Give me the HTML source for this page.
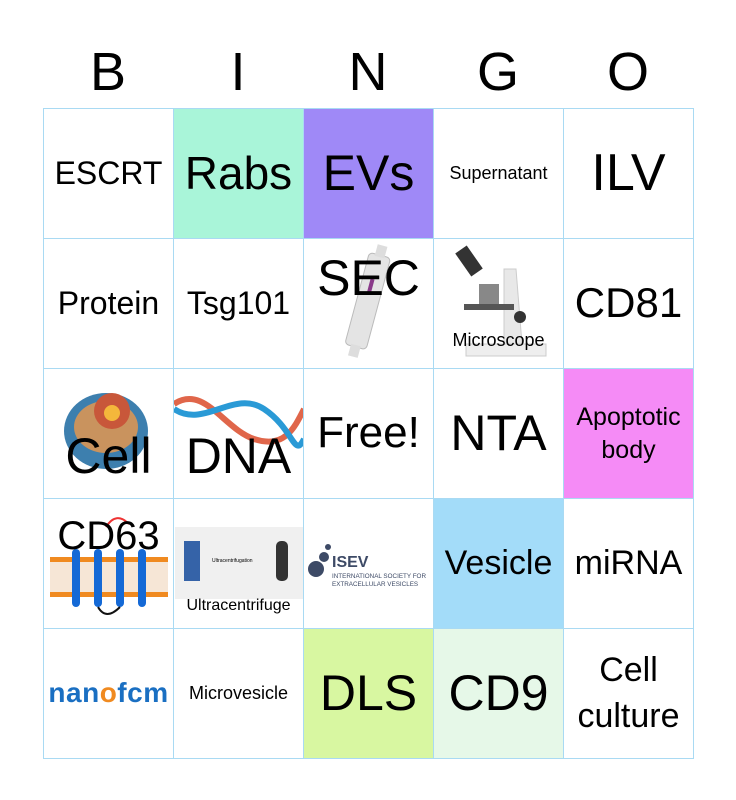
<!DOCTYPE html>
<html><head><meta charset="utf-8"><style>
body{margin:0;width:736px;height:800px;background:#fff;position:relative;overflow:hidden;font-family:"Liberation Sans",sans-serif;}
.h{position:absolute;top:40px;width:130px;text-align:center;font-size:54px;line-height:64px;}
.c{position:absolute;width:129px;height:129px;border:1px solid #a9daf3;display:flex;align-items:center;justify-content:center;text-align:center;box-sizing:content-box;overflow:hidden;}
.t{position:relative;z-index:2;line-height:1.1;}
svg{position:absolute;}
</style></head><body>
<div class="h" style="left:43px">B</div>
<div class="h" style="left:173px">I</div>
<div class="h" style="left:303px">N</div>
<div class="h" style="left:433px">G</div>
<div class="h" style="left:563px">O</div>

<!-- row 1 -->
<div class="c" style="left:43px;top:108px"><span class="t" style="font-size:32px">ESCRT</span></div>
<div class="c" style="left:173px;top:108px;background:#a9f5d9"><span class="t" style="font-size:46px">Rabs</span></div>
<div class="c" style="left:303px;top:108px;background:#9f89f7"><span class="t" style="font-size:50px">EVs</span></div>
<div class="c" style="left:433px;top:108px"><span class="t" style="font-size:18px">Supernatant</span></div>
<div class="c" style="left:563px;top:108px"><span class="t" style="font-size:52px">ILV</span></div>

<!-- row 2 -->
<div class="c" style="left:43px;top:238px"><span class="t" style="font-size:32px">Protein</span></div>
<div class="c" style="left:173px;top:238px"><span class="t" style="font-size:32px">Tsg101</span></div>
<div class="c" style="left:303px;top:238px">
<svg width="130" height="130" viewBox="0 0 130 130"><g transform="rotate(15 65 65)"><rect x="52" y="15" width="22" height="95" rx="4" fill="#e4e4e4" stroke="#bbb"/><rect x="58" y="5" width="10" height="12" fill="#ddd"/><rect x="58" y="108" width="10" height="12" fill="#ddd"/><rect x="60" y="40" width="4" height="14" fill="#8a3a8a"/></g></svg>
<span class="t" style="font-size:50px;position:absolute;top:12px">SEC</span></div>
<div class="c" style="left:433px;top:238px">
<svg width="130" height="130" viewBox="0 0 130 130"><rect x="28" y="8" width="14" height="28" fill="#333" transform="rotate(-35 35 22)"/><path d="M70 30 L82 30 L88 105 L70 105 Z" fill="#e8e8e8" stroke="#ccc"/><rect x="30" y="65" width="50" height="6" fill="#555"/><rect x="45" y="45" width="20" height="20" fill="#888"/><circle cx="86" cy="78" r="6" fill="#333"/><rect x="32" y="105" width="80" height="12" fill="#eee" stroke="#ccc"/></svg>
<span class="t" style="font-size:18px;position:absolute;top:92px">Microscope</span></div>
<div class="c" style="left:563px;top:238px"><span class="t" style="font-size:42px">CD81</span></div>

<!-- row 3 -->
<div class="c" style="left:43px;top:368px">
<svg width="130" height="130" viewBox="0 0 130 130"><ellipse cx="62" cy="62" rx="42" ry="38" fill="#3d7fae"/><ellipse cx="62" cy="58" rx="32" ry="26" fill="#c9935e"/><circle cx="68" cy="42" r="18" fill="#c8573a"/><circle cx="68" cy="44" r="8" fill="#f4b73b"/></svg>
<span class="t" style="font-size:50px;position:absolute;top:60px">Cell</span></div>
<div class="c" style="left:173px;top:368px">
<svg width="130" height="130" viewBox="0 0 130 130"><path d="M0 35 C30 15 50 60 80 70 S120 60 130 40" stroke="#e0664a" stroke-width="6" fill="none"/><path d="M0 40 C30 60 60 20 90 40 S120 90 130 70" stroke="#2a9ad6" stroke-width="6" fill="none"/></svg>
<span class="t" style="font-size:50px;position:absolute;top:60px">DNA</span></div>
<div class="c" style="left:303px;top:368px"><span class="t" style="font-size:44px">Free!</span></div>
<div class="c" style="left:433px;top:368px"><span class="t" style="font-size:50px">NTA</span></div>
<div class="c" style="left:563px;top:368px;background:#f58bf6"><span class="t" style="font-size:25px;line-height:1.3">Apoptotic<br>body</span></div>

<!-- row 4 -->
<div class="c" style="left:43px;top:498px">
<svg width="130" height="130" viewBox="0 0 130 130"><rect x="6" y="58" width="118" height="40" fill="#f6e6d6"/><g fill="#f08a20"><rect x="6" y="58" width="118" height="5"/><rect x="6" y="93" width="118" height="5"/></g><g fill="#1469d6"><rect x="28" y="50" width="8" height="58" rx="4"/><rect x="50" y="50" width="8" height="58" rx="4"/><rect x="72" y="50" width="8" height="58" rx="4"/><rect x="94" y="50" width="8" height="58" rx="4"/></g><path d="M62 28 Q72 12 85 25" stroke="#e33" stroke-width="2" fill="none"/><path d="M54 108 Q62 122 76 108" stroke="#111" stroke-width="2" fill="none"/></svg>
<span class="t" style="font-size:40px;position:absolute;top:15px">CD63</span></div>
<div class="c" style="left:173px;top:498px">
<svg width="130" height="130" viewBox="0 0 130 130"><rect x="1" y="28" width="128" height="72" fill="#f0f0f0"/><rect x="10" y="42" width="16" height="40" fill="#3563a8"/><rect x="102" y="42" width="12" height="40" rx="5" fill="#333"/><text x="38" y="63" font-size="5" font-family="Liberation Sans">Ultracentrifugation</text></svg>
<span class="t" style="font-size:16px;position:absolute;top:98px">Ultracentrifuge</span></div>
<div class="c" style="left:303px;top:498px">
<svg width="130" height="130" viewBox="0 0 130 130"><circle cx="12" cy="70" r="8" fill="#3d4a66"/><circle cx="20" cy="58" r="5" fill="#3d4a66"/><circle cx="24" cy="48" r="3" fill="#3d4a66"/><text x="28" y="68" font-size="16" font-weight="bold" fill="#3d4a66" font-family="Liberation Sans">ISEV</text><text x="28" y="79" font-size="6.3" fill="#3d4a66" font-family="Liberation Sans">INTERNATIONAL SOCIETY FOR</text><text x="28" y="87" font-size="6.3" fill="#3d4a66" font-family="Liberation Sans">EXTRACELLULAR VESICLES</text></svg></div>
<div class="c" style="left:433px;top:498px;background:#a3dcf9"><span class="t" style="font-size:34px">Vesicle</span></div>
<div class="c" style="left:563px;top:498px"><span class="t" style="font-size:34px">miRNA</span></div>

<!-- row 5 -->
<div class="c" style="left:43px;top:628px"><span class="t" style="font-size:28px;font-weight:bold;color:#1a6fc2;letter-spacing:0.5px">nan<span style="color:#f08a20">o</span>fcm</span></div>
<div class="c" style="left:173px;top:628px"><span class="t" style="font-size:18px">Microvesicle</span></div>
<div class="c" style="left:303px;top:628px;background:#d8f7a1"><span class="t" style="font-size:50px">DLS</span></div>
<div class="c" style="left:433px;top:628px;background:#e6f8e8"><span class="t" style="font-size:50px">CD9</span></div>
<div class="c" style="left:563px;top:628px"><span class="t" style="font-size:34px;line-height:1.35">Cell<br>culture</span></div>
</body></html>
